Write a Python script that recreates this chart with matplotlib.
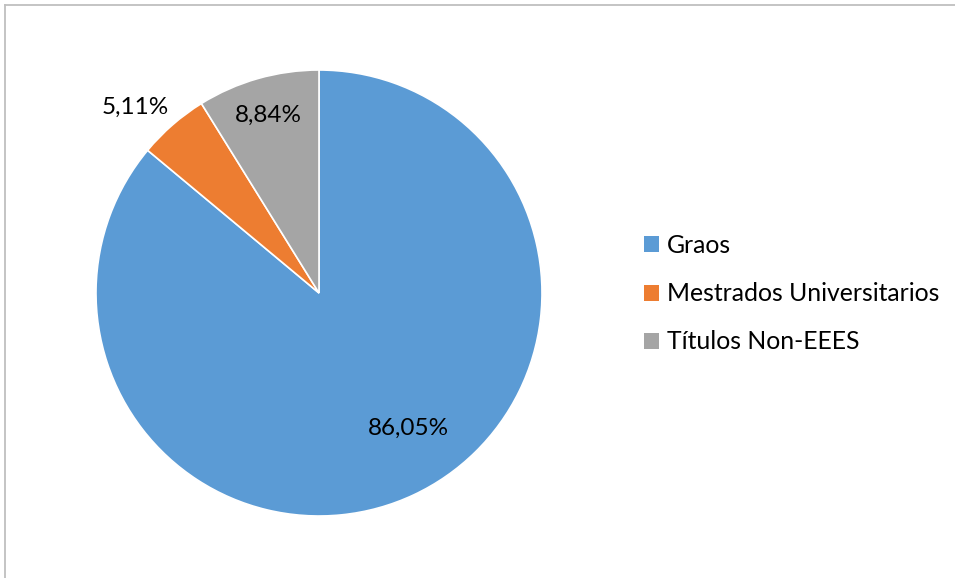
import matplotlib
matplotlib.use("Agg")
import matplotlib.pyplot as plt
from matplotlib.patches import Patch
from matplotlib.lines import Line2D

categories = ["Graos", "Mestrados Universitarios", "Títulos Non-EEES"]
values = [86.05, 5.11, 8.84]
labels = ["86,05%", "5,11%", "8,84%"]
colors = ["#5B9BD5", "#ED7D31", "#A5A5A5"]
label_pos = [(0.40, -0.605), (-0.825, 0.834), (-0.229, 0.798)]

plt.rcParams['font.family'] = ['Lato', 'DejaVu Sans']

W, H = 955, 578
fig = plt.figure(figsize=(W/100, H/100), dpi=100)

# border lines (top and left)
fig.add_artist(Line2D([5/W, 1.0], [1-5/H, 1-5/H], transform=fig.transFigure, color="#BFBFBF", lw=1.3))
fig.add_artist(Line2D([5/W, 5/W], [0, 1-5/H], transform=fig.transFigure, color="#BFBFBF", lw=1.3))

cx, cy, r = 319, 293, 223
ax = fig.add_axes([(cx-r)/W, (H-cy-r)/H, 2*r/W, 2*r/H])
ax.pie(values, colors=colors, startangle=90, counterclock=False,
       wedgeprops=dict(edgecolor="white", linewidth=1.2), radius=1)
ax.set_xlim(-1, 1); ax.set_ylim(-1, 1)
ax.set_aspect("equal")
ax.axis("off")
for lab, (x, y) in zip(labels, label_pos):
    ax.text(x, y, lab, ha="center", va="center", fontsize=17.5, color="#000000")

handles = [Patch(facecolor=c, edgecolor="none") for c in colors]
fig.legend(handles, categories, loc="upper left", bbox_to_anchor=(644/W, 1-234/H),
           frameon=False, fontsize=17.8, handlelength=0.62, handleheight=0.62,
           handletextpad=0.3, labelspacing=1.02, borderaxespad=0, borderpad=0)

fig.savefig("out.png", dpi=100, facecolor="white")
